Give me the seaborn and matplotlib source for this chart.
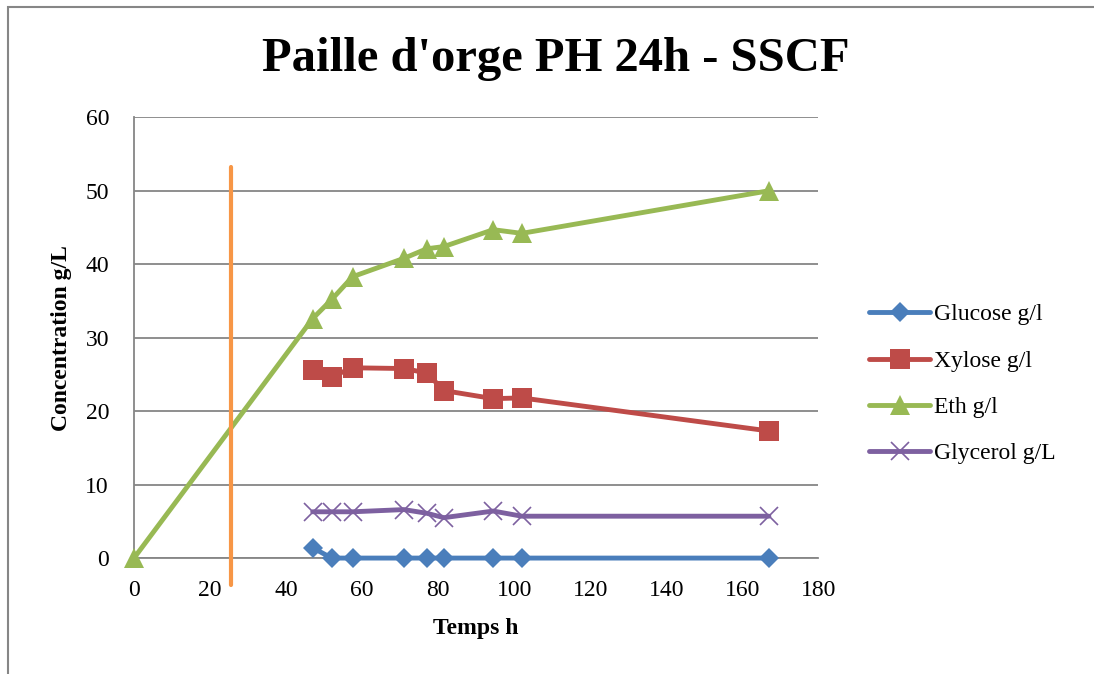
import pandas as pd
import numpy as np
import matplotlib.pyplot as plt
import matplotlib.patches as mpatches
import seaborn as sns

# Data
time_h = [47, 52, 57.5, 71, 77, 81.5, 94.5, 102, 167]
glucose = [1.4, 0, 0, 0, 0, 0, 0, 0, 0]
xylose = [25.6, 24.7, 25.9, 25.8, 25.2, 22.8, 21.7, 21.8, 17.3]
eth_time = [0] + time_h
eth = [0, 32.6, 35.2, 38.3, 40.8, 42.1, 42.4, 44.7, 44.2, 50.0]
glycerol = [6.3, 6.3, 6.3, 6.6, 6.1, 5.5, 6.4, 5.7, 5.7]
series_names = ["Glucose g/l", "Xylose g/l", "Eth g/l", "Glycerol g/L"]
induction_h = 25.5

frames = [
    pd.DataFrame({"t": time_h, "c": glucose, "serie": series_names[0]}),
    pd.DataFrame({"t": time_h, "c": xylose, "serie": series_names[1]}),
    pd.DataFrame({"t": eth_time, "c": eth, "serie": series_names[2]}),
    pd.DataFrame({"t": time_h, "c": glycerol, "serie": series_names[3]}),
]
df = pd.concat(frames, ignore_index=True)

colors = ["#4A7EBB", "#BE4B48", "#98B954", "#7D60A0"]
markers = ["D", "s", "^", "x"]
sizes = [10, 14, 14, 13]

sns.set_style("white")
plt.rcParams["font.family"] = ["Liberation Serif", "DejaVu Serif"]
plt.rcParams["text.color"] = "black"
plt.rcParams["xtick.color"] = "black"
plt.rcParams["ytick.color"] = "black"
plt.rcParams["axes.labelcolor"] = "black"

fig = plt.figure(figsize=(10.94, 6.74), dpi=100)
ax = fig.add_axes([0.1225, 0.172, 0.6255, 0.654])

for name, col, mk, ms in zip(series_names, colors, markers, sizes):
    sub = df[df["serie"] == name]
    sns.lineplot(data=sub, x="t", y="c", ax=ax, color=col, linewidth=3.5,
                 marker=mk, markersize=ms, markeredgecolor=col,
                 markeredgewidth=1.2 if mk == "x" else 0, label=name,
                 clip_on=False, zorder=3)

# orange marker line (start of fermentation)
ax.plot([induction_h, induction_h], [-3.7, 53.2], color="#F79646",
        linewidth=3, clip_on=False, zorder=4)

ax.set_xlim(0, 180)
ax.set_ylim(0, 60)
ax.set_xticks(range(0, 181, 20))
ax.set_yticks(range(0, 61, 10))
ax.grid(axis="y", color="#868686", linewidth=1.3)
ax.set_axisbelow(True)
for s in ["top", "right"]:
    ax.spines[s].set_visible(False)
for s in ["left", "bottom"]:
    ax.spines[s].set_color("#868686")
    ax.spines[s].set_linewidth(1.3)
ax.tick_params(axis="both", direction="out", length=6, width=1.3,
               color="#868686", labelsize=17)
ax.tick_params(axis="x", pad=10)
ax.tick_params(axis="y", pad=12)

ax.set_xlabel("Temps h", fontsize=17, fontweight="bold", labelpad=12)
ax.set_ylabel("Concentration g/L", fontsize=17, fontweight="bold", labelpad=10)
fig.text(0.508, 0.912, "Paille d'orge PH 24h - SSCF", ha="center", va="center",
         fontsize=35, fontweight="bold")

ax.legend(loc="center left", bbox_to_anchor=(0.775, 0.43),
          bbox_transform=fig.transFigure, frameon=False, fontsize=17,
          handlelength=2.6, handletextpad=0.15, labelspacing=1.05)

# chart frame
fig.patches.append(mpatches.Rectangle((8 / 1094, -0.1), 1.2, 1.1 - 7 / 674,
                                      transform=fig.transFigure, fill=False,
                                      edgecolor="#868686", linewidth=1.5))

fig.savefig("out.png", dpi=100)
